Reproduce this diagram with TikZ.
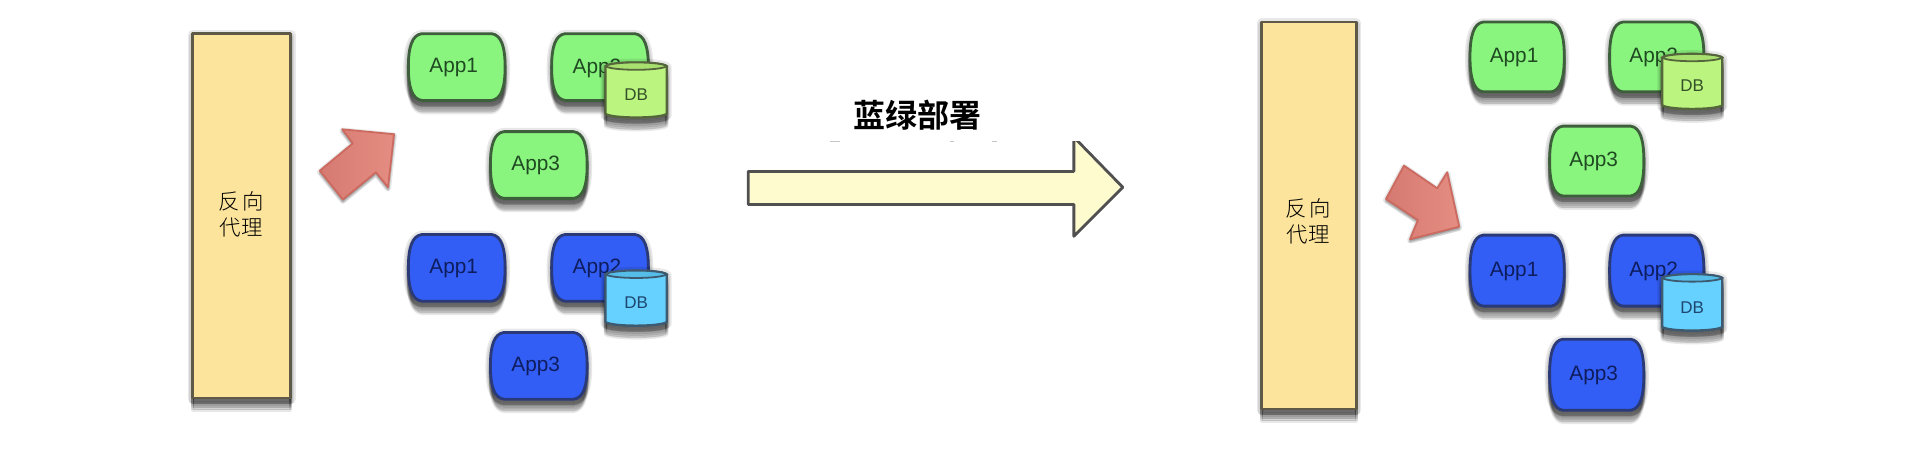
\documentclass[tikz,border=0pt]{standalone}
\usepackage{fontspec}
\setmainfont{Liberation Sans}
\newfontfamily\cjk{Noto Sans CJK SC Light}
\newfontfamily\cjkb{Noto Sans CJK SC Bold}
\usetikzlibrary{shadings}
\definecolor{proxyfill}{HTML}{FCE49C}
\definecolor{proxyline}{HTML}{5F5A48}
\definecolor{gfill}{HTML}{8AF57E}
\definecolor{gline}{HTML}{3E5F3C}
\definecolor{gtext}{HTML}{1F4A22}
\definecolor{bfill}{HTML}{335EF5}
\definecolor{bline}{HTML}{2A3A78}
\definecolor{btext}{HTML}{0E1D5E}
\definecolor{dbg}{HTML}{BBF57F}
\definecolor{dbgtop}{HTML}{A8E070}
\definecolor{dbgline}{HTML}{55663C}
\definecolor{dbgtext}{HTML}{35502A}
\definecolor{dbb}{HTML}{66D1FF}
\definecolor{dbbtop}{HTML}{55BDE8}
\definecolor{dbbline}{HTML}{3E5A70}
\definecolor{dbbtext}{HTML}{1E4670}
\definecolor{redline}{HTML}{CC6A60}
\definecolor{redlight}{HTML}{E58D82}
\definecolor{reddark}{HTML}{D67A71}
\definecolor{bigfill}{HTML}{FEFBCF}
\definecolor{bigline}{HTML}{505050}
\tikzset{
  applabel/.style={font=\fontsize{10.4}{12}\selectfont},
  dblabel/.style={font=\fontsize{8.5}{10}\selectfont},
  cjklabel/.style={font=\cjk\fontsize{10.7}{12.8}\selectfont,align=center,text=black},
  titlelabel/.style={font=\cjkb\fontsize{16}{19}\selectfont,text=black},
  softedge/.style={line join=round,line width=1.4pt},
  redarrow/.style={draw=redline,line width=0.9pt,line join=round,left color=reddark,right color=redlight},
  shadowlayer/.style={draw=black,fill=black,line join=round,line width=#1,draw opacity=0.09,fill opacity=0.09},
}
% soft drop shadow of the path held in \shapepath: falls mainly below the shape
\newcommand{\shadowat}[2]{\begin{scope}[yshift=-#1*0.6123pt]\path[shadowlayer=#2] \shapepath;\end{scope}}
\newcommand{\softshadow}{%
  \shadowat{1}{5pt}\shadowat{2}{3.5pt}\shadowat{3}{2pt}%
  \shadowat{4}{1.6pt}\shadowat{5.5}{1.6pt}\shadowat{7}{1.6pt}\shadowat{8.5}{1.6pt}\shadowat{10}{1.6pt}}
\newcommand{\arrowshadow}{\shadowat{1}{3pt}\shadowat{1}{1.5pt}\shadowat{2}{1.5pt}}
\newcommand{\appbox}[8]{% name x y w h fill line text+label
  \begin{scope}[shift={(#2,#3)}]
    \def\cw{#4}\def\ch{#5}
    \pgfmathsetmacro\xa{\cw*0.14}\pgfmathsetmacro\xb{\cw*0.86}
    \pgfmathsetmacro\ym{\ch*0.5}
    \def\shapepath{(\xa,0) -- (\xb,0) .. controls (\cw-3,1) and (\cw,\ch*0.2) .. (\cw,\ym) .. controls (\cw,\ch*0.8) and (\cw-3,\ch-1) .. (\xb,\ch) -- (\xa,\ch) .. controls (3,\ch-1) and (0,\ch*0.8) .. (0,\ym) .. controls (0,\ch*0.2) and (3,1) .. (\xa,0) -- cycle}
    \softshadow
    \path[softedge,draw=#7,fill=#6] \shapepath;
    \node[applabel,text=#8] (#1) at (\cw*0.5-2.5,\ch*0.5+0.7) {\applabeltext};
  \end{scope}}
\newcommand{\dbcyl}[8]{% name x y w h fill top line (text colour via \dbtextcol)
  \begin{scope}[shift={(#2,#3)}]
    \def\cw{#4}\def\ch{#5}
    \def\shapepath{(0,4) .. controls (5,0) and (\cw-5,0) .. (\cw,4) -- (\cw,\ch-4) .. controls (\cw-5,\ch) and (5,\ch) .. (0,\ch-4) -- cycle}
    \softshadow
    \path[line join=round,line width=1.2pt,draw=#8,fill=#6] \shapepath;
    \path[line width=0.9pt,draw=#8,fill=#7] (0,4) .. controls (5,0) and (\cw-5,0) .. (\cw,4) .. controls (\cw-5,8) and (5,8) .. (0,4) -- cycle;
    \node[dblabel,text=\dbtextcol] (#1) at (\cw*0.5,\ch*0.58) {DB};
  \end{scope}}
\newcommand{\proxy}[6]{% name x0 y0 x1 y1 text-dy
  \def\shapepath{(#2,#3) rectangle (#4,#5)}
  \softshadow
  \path[softedge,draw=proxyline,fill=proxyfill] \shapepath;
  \node[cjklabel] (#1) at ({(#2+#4)/2-0.5},{(#3+#5)/2+#6}) {反\hspace{1.2pt}向\\[0pt]代理};
}
\begin{document}
\begin{tikzpicture}[x=0.6123pt,y=-0.6123pt]
\useasboundingbox[fill=white] (0,0) rectangle (1568,373.2);

% left group
\proxy{proxyL}{157.5}{27.5}{237.5}{325}{-1}
\def\applabeltext{App1}
\appbox{gL1}{333.5}{27.5}{79}{54.5}{gfill}{gline}{gtext}
\def\applabeltext{App2}
\appbox{gL2}{450.5}{27.5}{79}{54.5}{gfill}{gline}{gtext}
\def\dbtextcol{dbgtext}
\dbcyl{dgL}{494.5}{50}{50}{47}{dbg}{dbgtop}{dbgline}
\def\applabeltext{App3}
\appbox{gL3}{400.5}{107.5}{79}{54.5}{gfill}{gline}{gtext}
\def\applabeltext{App1}
\appbox{bL1}{333.5}{191.5}{79}{54.5}{bfill}{bline}{btext}
\def\applabeltext{App2}
\appbox{bL2}{450.5}{191.5}{79}{54.5}{bfill}{bline}{btext}
\def\dbtextcol{dbbtext}
\dbcyl{dbL}{494.5}{220}{50}{47}{dbb}{dbbtop}{dbbline}
\def\applabeltext{App3}
\appbox{bL3}{400.5}{271.5}{79}{54.5}{bfill}{bline}{btext}

\def\shapepath{(279.5,105.6) -- (321.8,109.6) -- (316.9,152.9) -- (307,140.7) -- (280,162.9) -- (261.2,139.4) -- (288.2,117) -- cycle}
\arrowshadow
\path[redarrow] \shapepath;

% middle arrow and title
\path[softedge,draw=bigline,fill=bigfill] (611,140) -- (877,140) -- (877,112) -- (917,153) -- (877,193) -- (877,167) -- (611,167) -- cycle;
\fill[white] (660,100) rectangle (900,115);
\draw[gray,opacity=0.45,line width=0.6pt] (678,115.5) -- (686,115.5) (776,115.5) -- (779,115.5) (810,115.5) -- (814,115.5);
\node[titlelabel] (title) at (749,94) {蓝绿部署};

% right group
\proxy{proxyR}{1030.5}{18}{1107.5}{334}{5}
\def\applabeltext{App1}
\appbox{gR1}{1200.5}{18}{77}{57}{gfill}{gline}{gtext}
\def\applabeltext{App2}
\appbox{gR2}{1314.5}{18}{77}{57}{gfill}{gline}{gtext}
\def\dbtextcol{dbgtext}
\dbcyl{dgR}{1357.5}{43}{49}{47}{dbg}{dbgtop}{dbgline}
\def\applabeltext{App3}
\appbox{gR3}{1265.5}{103}{77}{57}{gfill}{gline}{gtext}
\def\applabeltext{App1}
\appbox{bR1}{1200.5}{192}{77}{58}{bfill}{bline}{btext}
\def\applabeltext{App2}
\appbox{bR2}{1314.5}{192}{77}{58}{bfill}{bline}{btext}
\def\dbtextcol{dbbtext}
\dbcyl{dbR}{1357.5}{223}{49}{48}{dbb}{dbbtop}{dbbline}
\def\applabeltext{App3}
\appbox{bR3}{1265.5}{277}{77}{58}{bfill}{bline}{btext}

\def\shapepath{(1146.6,135.3) -- (1173.7,153.8) -- (1181.9,140.7) -- (1191.7,185.1) -- (1151.5,195.4) -- (1158,179.7) -- (1131.9,162.5) -- cycle}
\arrowshadow
\path[redarrow] \shapepath;
\end{tikzpicture}
\end{document}
